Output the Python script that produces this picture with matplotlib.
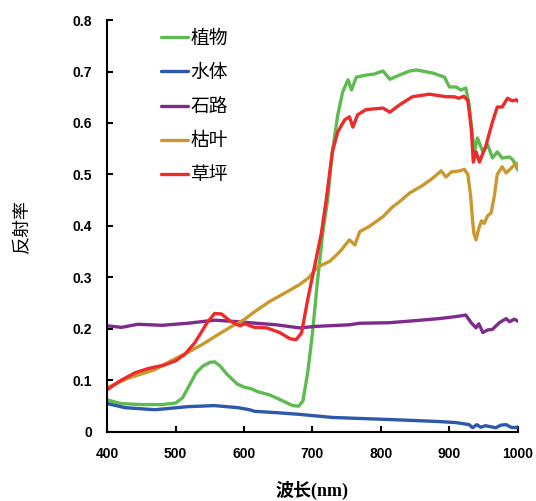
import numpy as np
import matplotlib
matplotlib.use("Agg")
import matplotlib.pyplot as plt

plt.rcParams['font.family'] = ['Liberation Sans', 'Noto Sans CJK SC', 'DejaVu Sans']

# 植物 (green)
veg_nm = [400, 420, 450, 480, 500, 510, 520, 530, 540, 550, 557, 565, 575, 590, 600, 610, 620, 637,
          652, 671, 680, 686, 693, 700, 707, 715, 722, 729, 737, 744, 752, 757, 764, 778, 790, 803,
          813, 827, 842, 852, 876, 893, 900, 910, 917, 924, 929, 934, 937, 941, 949, 956, 963, 970,
          977, 988, 993, 1000]
veg_r = [0.062, 0.055, 0.053, 0.053, 0.056, 0.066, 0.09, 0.115, 0.128, 0.135, 0.136, 0.128, 0.112,
         0.093, 0.087, 0.084, 0.078, 0.072, 0.063, 0.051, 0.050, 0.060, 0.115, 0.192, 0.289, 0.386,
         0.45, 0.544, 0.616, 0.66, 0.684, 0.664, 0.689, 0.693, 0.695, 0.701, 0.685, 0.693, 0.701,
         0.703, 0.697, 0.689, 0.670, 0.670, 0.664, 0.668, 0.635, 0.571, 0.545, 0.571, 0.544, 0.558,
         0.532, 0.544, 0.532, 0.534, 0.528, 0.509]

# 水体 (blue)
water_nm = [400, 426, 470, 518, 557, 591, 608, 615, 650, 681, 729, 770, 812, 850, 885, 910, 929,
            934, 940, 946, 953, 960, 968, 975, 983, 990, 998, 1000]
water_r = [0.055, 0.047, 0.043, 0.049, 0.051, 0.047, 0.043, 0.040, 0.037, 0.034, 0.028, 0.026,
           0.024, 0.022, 0.020, 0.018, 0.014, 0.008, 0.014, 0.009, 0.012, 0.010, 0.008, 0.013,
           0.014, 0.009, 0.008, 0.010]

# 石路 (purple)
road_nm = [400, 421, 445, 480, 518, 557, 591, 608, 647, 681, 706, 754, 769, 812, 850, 885, 910,
           924, 932, 939, 943, 949, 956, 963, 973, 983, 988, 995, 1000]
road_r = [0.206, 0.203, 0.209, 0.207, 0.211, 0.217, 0.214, 0.212, 0.208, 0.202, 0.205, 0.208,
          0.211, 0.212, 0.216, 0.220, 0.224, 0.227, 0.212, 0.202, 0.210, 0.193, 0.198, 0.199,
          0.212, 0.220, 0.214, 0.219, 0.215]

# 枯叶 (gold)
leaf_nm = [400, 430, 470, 499, 520, 538, 562, 582, 600, 615, 637, 660, 681, 695, 706, 715, 725,
           740, 754, 762, 769, 783, 803, 817, 827, 842, 860, 875, 888, 895, 903, 915, 922, 927,
           931, 934, 936, 939, 943, 947, 951, 956, 961, 966, 970, 977, 983, 990, 998, 1000]
leaf_r = [0.086, 0.104, 0.121, 0.142, 0.156, 0.169, 0.189, 0.205, 0.218, 0.233, 0.253, 0.270,
          0.286, 0.300, 0.319, 0.325, 0.331, 0.350, 0.373, 0.363, 0.389, 0.399, 0.418, 0.437,
          0.447, 0.464, 0.478, 0.492, 0.507, 0.495, 0.505, 0.507, 0.510, 0.500, 0.460, 0.410,
          0.385, 0.373, 0.395, 0.410, 0.405, 0.420, 0.425, 0.460, 0.500, 0.515, 0.503, 0.512,
          0.522, 0.515]

# 草坪 (red)
lawn_nm = [400, 420, 441, 460, 484, 500, 513, 528, 547, 557, 567, 580, 594, 601, 615, 633, 652,
           667, 676, 684, 693, 703, 713, 720, 729, 737, 747, 754, 759, 766, 778, 803, 813, 827,
           846, 871, 895, 907, 914, 921, 927, 932, 935, 939, 944, 949, 953, 963, 970, 977, 985,
           992, 998, 1000]
lawn_r = [0.082, 0.100, 0.115, 0.123, 0.130, 0.138, 0.150, 0.173, 0.214, 0.230, 0.229, 0.215,
          0.206, 0.210, 0.203, 0.202, 0.193, 0.181, 0.179, 0.192, 0.257, 0.321, 0.386, 0.450,
          0.544, 0.583, 0.606, 0.612, 0.592, 0.616, 0.626, 0.629, 0.621, 0.635, 0.651, 0.656,
          0.651, 0.651, 0.648, 0.652, 0.644, 0.590, 0.524, 0.544, 0.524, 0.541, 0.554, 0.602,
          0.631, 0.631, 0.648, 0.643, 0.645, 0.642]

names = ['植物', '水体', '石路', '枯叶', '草坪']
colors = ['#5DBB4F', '#2E58AA', '#7E2B8C', '#C9992F', '#EC2B2B']

fig = plt.figure(figsize=(5.36, 5.01), dpi=100)
ax = fig.add_axes([0.2, 0.138, 0.766, 0.822])

series = [(veg_nm, veg_r), (water_nm, water_r), (road_nm, road_r), (leaf_nm, leaf_r), (lawn_nm, lawn_r)]
for (x, y), name, c in zip(series, names, colors):
    ax.plot(x, y, color=c, lw=2.4, label=name, solid_capstyle='round')

ax.set_xlim(400, 1000)
ax.set_ylim(0, 0.8)
ax.set_xticks(np.arange(400, 1001, 100))
ax.set_yticks(np.arange(0, 0.81, 0.1))
ax.set_yticklabels(['0', '0.1', '0.2', '0.3', '0.4', '0.5', '0.6', '0.7', '0.8'])

for s in ['top', 'right']:
    ax.spines[s].set_visible(False)
for s in ['left', 'bottom']:
    ax.spines[s].set_linewidth(1.5)
ax.tick_params(direction='in', length=4, width=1.5, pad=11, labelsize=10)
for lab in ax.get_xticklabels() + ax.get_yticklabels():
    lab.set_fontweight('bold')

ax.set_ylabel('反射率', fontsize=13, family=['Noto Sans CJK SC'], labelpad=30)
ax.set_xlabel('波长(nm)', fontsize=13, fontweight='bold',
              family=['Liberation Serif', 'Noto Sans CJK SC'], labelpad=14)

leg = ax.legend(loc='upper left', bbox_to_anchor=(0.091, 1.022), frameon=False,
                prop={'family': ['Noto Sans CJK SC'], 'size': 13.5},
                handlelength=1.4, handletextpad=0.15, labelspacing=0.7)

fig.savefig('out.png', dpi=100)
